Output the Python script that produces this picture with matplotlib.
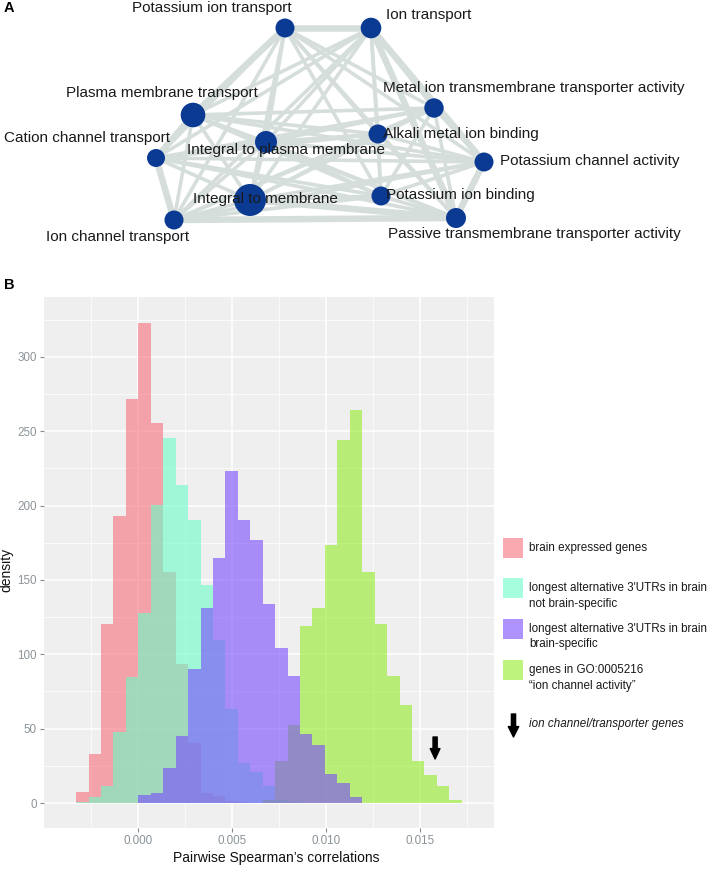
import itertools
import matplotlib
matplotlib.use("Agg")
import matplotlib.pyplot as plt
from matplotlib.patches import FancyArrowPatch, Rectangle

plt.rcParams['font.family'] = ['Liberation Sans', 'DejaVu Sans']

# ---- panel A: GO term network (layout in pixels of the figure) ----
terms = ["Potassium ion transport", "Ion transport", "Plasma membrane transport",
         "Cation channel transport", "Integral to plasma membrane", "Integral to membrane",
         "Ion channel transport", "Metal ion transmembrane transporter activity",
         "Alkali metal ion binding", "Potassium channel activity", "Potassium ion binding",
         "Passive transmembrane transporter activity"]
node_x = [285, 371, 193, 156, 266, 250, 174, 434, 378, 484, 381, 456]
node_y = [28, 28, 115, 158, 142, 200, 220, 108, 134, 162, 196, 218]
node_r = [9.5, 10.3, 12.3, 9, 11, 16, 9.5, 9.7, 9.5, 9.5, 9.5, 10]
label_x = [212, 386, 162, 170, 187, 193, 46, 383, 383, 500, 386, 388]
label_y = [8, 15, 93, 138, 150, 199, 237, 88, 134, 161, 195, 234]
label_ha = ["center", "left", "center", "right", "left", "left", "left",
            "left", "left", "left", "left", "left"]
thick_edges = [(0, 1), (1, 9), (9, 11), (6, 11), (3, 6), (2, 3), (0, 2), (5, 11), (1, 11)]

# ---- panel B: density histograms ----
bin_width = 0.000663
brain_start = -5
brain = [7.2, 33, 120.6, 193, 271.8, 323, 255.4, 155.3, 93.6, 40.4, 6.9, 4.6, 1.6, 0.5]
notspec_start = -5
notspec = [0.5, 3.9, 11.6, 48, 85, 127.8, 200.6, 245.7, 214.2, 190, 146.3, 109.8,
           62.9, 26.6, 20.8, 11.6, 2, 0.5]
spec_start = 0
spec = [5.3, 7, 23.7, 44.8, 90.1, 131.3, 164.5, 223.5, 190, 176.6, 134, 104, 85.5,
        46.2, 39.3, 19.6, 13.4, 4.2]
ion_start = 10
ion = [2, 28.2, 52.5, 119, 131.3, 173.3, 244.3, 264.2, 155.3, 120.6, 85.5, 65.9,
       28.2, 19, 11.6, 2.3]
arrow_x = 0.01582

series_labels = [["brain expressed genes"],
                 ["longest alternative 3'UTRs in brain", "not brain-specific"],
                 ["longest alternative 3'UTRs in brain", "brain-specific"],
                 ["genes in GO:0005216", "\u201cion channel activity\u201d"]]
colors = ["#F8707D", "#6BFDC8", "#7849FD", "#93ED28"]
alpha = 0.6

fig = plt.figure(figsize=(7.08, 8.69), dpi=100)

ax = fig.add_axes([44 / 708, 1 - 828 / 869, 450 / 708, 531 / 869])
ax.set_facecolor('#EFEFEF')
for s in ax.spines.values():
    s.set_visible(False)

def draw_hist(start, vals, color):
    lefts = [(start + i) * bin_width for i in range(len(vals))]
    ax.bar(lefts, vals, width=bin_width, align='edge', color=color, alpha=alpha,
           linewidth=0)

draw_hist(brain_start, brain, colors[0])
draw_hist(notspec_start, notspec, colors[1])
draw_hist(ion_start, ion, colors[3])
draw_hist(spec_start, spec, colors[2])

ax.set_xlim(-0.00503, 0.01896)
ax.set_ylim(-16.8, 340.3)
ax.set_xticks([0, 0.005, 0.010, 0.015])
ax.set_xticklabels(["0.000", "0.005", "0.010", "0.015"])
ax.set_xticks([-0.0025, 0.0025, 0.0075, 0.0125, 0.0175], minor=True)
ax.set_yticks([0, 50, 100, 150, 200, 250, 300])
ax.set_yticks([25, 75, 125, 175, 225, 275, 325], minor=True)
ax.set_axisbelow(True)
ax.grid(which='major', color='white', linewidth=1.1)
ax.grid(which='minor', color='white', linewidth=0.5)
ax.tick_params(which='minor', length=0)
ax.tick_params(which='major', length=3.2, width=0.8, color='#8a8a8a',
               labelcolor='#8c9499', labelsize=8.4, pad=2)
ax.set_xlabel("Pairwise Spearman\u2019s correlations", fontsize=10, color='#111111')
ax.set_ylabel("density", fontsize=10, color='#111111')
ax.xaxis.set_label_coords((276 - 44) / 450, (828 - 851) / 531)
ax.yaxis.set_label_coords((13 - 44) / 450, (828 - 570) / 531)

ax.add_patch(FancyArrowPatch((arrow_x, 44.4), (arrow_x, 29.6),
                             arrowstyle='simple,head_length=0.75,head_width=0.7,tail_width=0.3',
                             mutation_scale=10, color='black', shrinkA=0, shrinkB=0))

# overlay in figure pixels for network, panel letters and legend
ov = fig.add_axes([0, 0, 1, 1])
ov.set_xlim(0, 708)
ov.set_ylim(869, 0)
ov.axis('off')

for i, j in itertools.combinations(range(len(terms)), 2):
    w = 6.5 if (i, j) in thick_edges else 3.6
    ov.plot([node_x[i], node_x[j]], [node_y[i], node_y[j]], color='#D6DEDC',
            linewidth=w * 0.72, solid_capstyle='butt', zorder=1)
ov.scatter(node_x, node_y, s=[(2 * r * 0.72) ** 2 for r in node_r], color='#0B3A93',
           linewidths=0, zorder=3)
for t, x, y, ha in zip(terms, label_x, label_y, label_ha):
    ov.text(x, y, t, ha=ha, va='center', fontsize=11, color='#1a1a1a', zorder=4)

ov.text(4, 8, "A", fontsize=10.5, fontweight='bold', va='center')
ov.text(4, 285, "B", fontsize=10.5, fontweight='bold', va='center')

key_y = [548, 588, 629, 670]
for ky, c, lines in zip(key_y, colors, series_labels):
    ov.add_patch(Rectangle((503, ky - 10), 20, 20, facecolor=c, alpha=alpha, linewidth=0))
    for n, line in enumerate(lines):
        ov.text(529, ky + n * 15.5, line, fontsize=8.4, va='center', color='#1a1a1a')

ov.add_patch(FancyArrowPatch((513.5, 714), (513.5, 737),
                             arrowstyle='simple,head_length=0.75,head_width=0.75,tail_width=0.3',
                             mutation_scale=10, color='black', shrinkA=0, shrinkB=0))
ov.text(529, 724, "ion channel/transporter genes", fontsize=8.4, style='italic',
        va='center', color='#1a1a1a')

fig.savefig("out.png", dpi=100)
